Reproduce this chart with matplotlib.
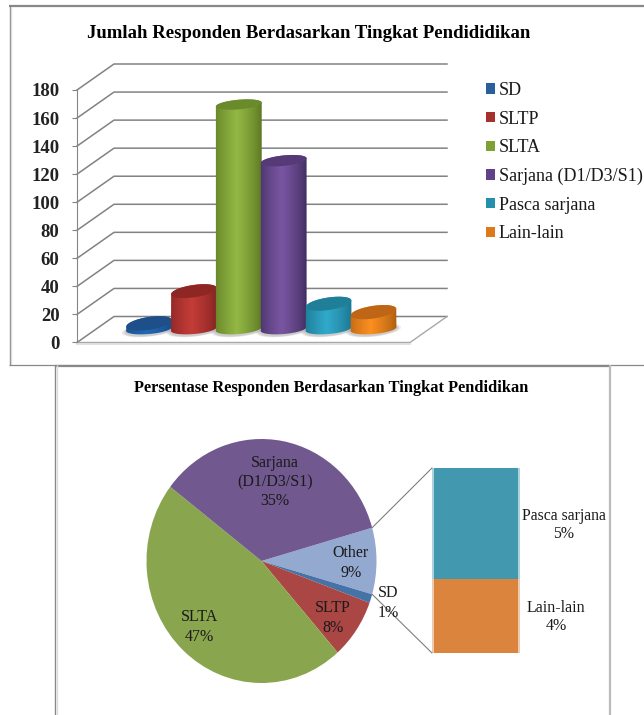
import numpy as np
import matplotlib
matplotlib.use("Agg")
import matplotlib.pyplot as plt
from matplotlib.lines import Line2D
from matplotlib.patches import ConnectionPatch, Patch, Polygon

W, H = 644, 715

categories = ["SD", "SLTP", "SLTA", "Sarjana (D1/D3/S1)", "Pasca sarjana", "Lain-lain"]
counts = [4, 27, 160, 120, 18, 12]
y_ticks = [0, 20, 40, 60, 80, 100, 120, 140, 160, 180]

body_light = ["#2268B4", "#C43C38", "#93B844", "#7A56A2", "#31A9CA", "#FB8F20"]
body_dark = ["#174A86", "#7C2020", "#56701F", "#3A2858", "#186C84", "#A85A10"]
top_colors = ["#1F4F88", "#8E2623", "#6A8A2C", "#563A78", "#1F7F98", "#BF6616"]
legend_colors = ["#2A5F9E", "#A6302D", "#7FA035", "#5F4288", "#2590AB", "#DE7A1C"]

pie_labels = ["Other", "SD", "SLTP", "SLTA", "Sarjana\n(D1/D3/S1)"]
pie_colors = ["#93A9CF", "#4572A7", "#AA4643", "#89A54E", "#71588F"]
stack_colors = ["#4198AF", "#DB843D"]

plt.rcParams["font.family"] = ["Liberation Serif", "DejaVu Serif"]
total = sum(counts)
pasca, lain = counts[4], counts[5]
pie_values = [pasca + lain, counts[0], counts[1], counts[2], counts[3]]


def px_axes(fig, left, top, right, bottom):
    return fig.add_axes([left / W, 1 - bottom / H, (right - left) / W, (bottom - top) / H])


def px_text(fig, x, y, s, **kw):
    kw.setdefault("ha", "center")
    kw.setdefault("va", "center")
    kw.setdefault("color", "#1a1a1a")
    return fig.text(x / W, 1 - y / H, s, **kw)


def px_line(fig, xs, ys, color="#888888", lw=1.5):
    fig.add_artist(Line2D([x / W for x in xs], [1 - y / H for y in ys], color=color, lw=lw,
                          solid_capstyle="butt"))


def ellipse(xc, yc, a=23.0, b=5.5, rot=6.0, t0=0.0, t1=2 * np.pi, n=60):
    # ellipse given in pixels around a data-space centre, returned in data units
    t = np.linspace(t0, t1, n)
    r = np.deg2rad(rot)
    ex = a * np.cos(t) * np.cos(r) - b * np.sin(t) * np.sin(r)
    ey = a * np.cos(t) * np.sin(r) + b * np.sin(t) * np.cos(r)
    return np.column_stack([xc + ex / unit_x, yc + ey / unit_y])


def hex_rgb(c):
    return np.array(matplotlib.colors.to_rgb(c))


fig = plt.figure(figsize=(W / 100, H / 100), dpi=100, facecolor="white")

# outer frames of the two pasted charts
px_line(fig, [9, 644], [6, 6], lw=1.6)
px_line(fig, [9.5, 9.5], [6, 364.5], lw=1.0)
px_line(fig, [11, 11], [7, 364], color="#dddddd", lw=1.0)
px_line(fig, [9, 644], [364.5, 364.5], lw=0.9)
px_line(fig, [55, 610], [365.5, 365.5], lw=1.6)
px_line(fig, [55, 55], [365, 715], lw=1.0)
px_line(fig, [56.5, 56.5], [365, 715], color="#dddddd", lw=1.0)
px_line(fig, [610, 610], [365, 715], color="#bbbbbb", lw=1.6)

# 3D-looking cylinder chart
ax = px_axes(fig, 77, 90, 410, 342.5)
unit_x = 44.9
unit_y = 252.5 / 180
x_max = 333 / unit_x
depth_x = 37 / unit_x
depth_y = 26 / unit_y
first_x = 72 / unit_x
base_y = 13.5 / unit_y

for v in y_ticks:
    ax.plot([0, depth_x, x_max + depth_x], [v, v + depth_y, v + depth_y], color="#828282",
            lw=1.1, clip_on=False, zorder=1)
ax.plot([0, x_max, x_max + depth_x], [0, 0, depth_y], color="#a8a8a8", lw=1.0, clip_on=False, zorder=1)
ax.plot([0, x_max], [-0.8, -0.8], color="#dcdcdc", lw=1.2, clip_on=False, zorder=1)

# soft shadow on the floor
for i in range(len(counts)):
    for grow in (1.2, 1.12, 1.06):
        pts = ellipse(first_x + i, base_y - 0.8, a=23 * grow, b=5.5 * grow)
        ax.add_patch(Polygon(pts, color="#707070", alpha=0.13, lw=0, zorder=2))

for i, v in enumerate(counts):
    xc = first_x + i
    y_top = base_y + v
    # short cylinders are seen from higher up, so their caps open wider
    cap_b = 6.4 - 1.6 * v / 160
    cap_rot = 9.0 - 4.0 * v / 160
    upper = ellipse(xc, y_top, b=cap_b, rot=cap_rot, t0=0.0, t1=np.pi)
    lower = ellipse(xc, base_y, b=5.0, rot=5.0, t0=np.pi, t1=2 * np.pi)
    body = np.vstack([upper, lower])

    # horizontal shading across the cylinder body
    s = np.linspace(0, 1, 64)
    shade = np.clip(1 - np.abs(s - 0.45) / 0.55, 0, 1)[:, None] ** 0.7
    grad = hex_rgb(body_dark[i]) * (1 - shade) + hex_rgb(body_light[i]) * shade
    half = 24 / unit_x
    im = ax.imshow(grad[None, :, :], extent=[xc - half, xc + half, base_y - 10, y_top + 10],
                   aspect="auto", zorder=3 + i, interpolation="bilinear")
    im.set_clip_path(Polygon(body, transform=ax.transData))
    ax.add_patch(Polygon(ellipse(xc, y_top, b=cap_b, rot=cap_rot), color=top_colors[i], lw=0, zorder=3 + i))

ax.set_xlim(0, x_max)
ax.set_ylim(0, 180)
ax.set_facecolor("none")
ax.set_xticks([])
ax.set_yticks(y_ticks)
ax.tick_params(axis="y", length=3.6, width=0.8, color="#858585", pad=9, labelsize=13.5)
for lab in ax.get_yticklabels():
    lab.set_fontweight("bold")
    lab.set_color("#222222")
for name in ["top", "right", "bottom"]:
    ax.spines[name].set_visible(False)
ax.spines["left"].set_color("#858585")
ax.spines["left"].set_linewidth(0.8)

handles = [Patch(facecolor=c, edgecolor="none") for c in legend_colors]
ax.legend(handles, categories, loc="upper left", bbox_to_anchor=(486 / W, 1 - 82 / H),
          bbox_transform=fig.transFigure, frameon=False, fontsize=13, borderpad=0,
          borderaxespad=0, handlelength=0.5, handleheight=0.5, handletextpad=0.2,
          labelspacing=0.64, labelcolor="#1a1a1a")

px_text(fig, 309, 33, "Jumlah Responden Berdasarkan Tingkat Pendididikan", fontsize=13.5, fontweight="bold",
        color="black")

# pie with the last two groups broken out into a stacked column
pie_ax = px_axes(fig, 261.5 - 143.75, 561 - 152.5, 261.5 + 143.75, 561 + 152.5)
other_frac = pie_values[0] / total
start = 180 * other_frac
pie_ax.pie(pie_values, colors=pie_colors, startangle=start, counterclock=False, radius=1.0,
           wedgeprops={"linewidth": 0})
pie_ax.set_xlim(-1.25, 1.25)
pie_ax.set_ylim(-1.25, 1.25)
pie_ax.set_aspect("auto")

stack_ax = px_axes(fig, 432, 468, 520, 653)
y_bottom = 0
for val, col in zip([lain, pasca], stack_colors[::-1]):
    stack_ax.bar(0, val, width=1.0, bottom=y_bottom, color=col, alpha=0.42, lw=0)
    stack_ax.bar(0, val, width=0.965, bottom=y_bottom, color=col, lw=0)
    y_bottom += val
stack_ax.set_xlim(-0.5, 0.5)
stack_ax.set_ylim(0, pasca + lain)
stack_ax.axis("off")

for sign, y_end in [(1, pasca + lain), (-1, 0)]:
    a = np.deg2rad(sign * start)
    fig.add_artist(ConnectionPatch(xyA=(np.cos(a), np.sin(a)), coordsA=pie_ax.transData,
                                   xyB=(-0.5, y_end), coordsB=stack_ax.transData,
                                   color="#7f7f7f", lw=0.8))

label_pos = [(351, 563), (388, 603), (333, 618), (199, 627), (275, 482)]
for name, val, (lx, ly) in zip(pie_labels, pie_values, label_pos):
    px_text(fig, lx, ly, f"{name}\n{val / total:.0%}", fontsize=11.5, linespacing=1.27)
px_text(fig, 564, 525, f"Pasca sarjana\n{pasca / total:.0%}", fontsize=11.3, linespacing=1.15)
px_text(fig, 556, 617, f"Lain-lain\n{lain / total:.0%}", fontsize=11.5, linespacing=1.15)

px_text(fig, 331.5, 388, "Persentase Responden Berdasarkan Tingkat Pendidikan", fontsize=11.75, fontweight="bold",
        color="black")

fig.savefig("out.png", dpi=100)
